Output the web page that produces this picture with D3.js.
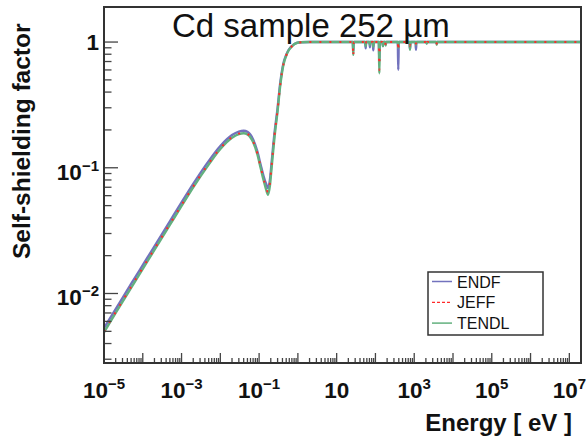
<!DOCTYPE html>
<html><head><meta charset="utf-8">
<script src="https://cdn.jsdelivr.net/npm/d3@7"></script>
<style>body{margin:0;background:#fff} svg{display:block} text{font-family:"Liberation Sans",Arial,Helvetica,sans-serif}</style>
</head><body><svg id="c" width="586" height="443"></svg>
<script>
// ---- data ----
const energy = [1e-5,2e-5,5e-5,1e-4,2e-4,5e-4,1e-3,2e-3,5e-3,0.01,0.02,0.03,0.04,0.05,0.07,0.09,0.11,0.13,0.15,0.17,0.19,0.21,0.25,0.3,0.35,0.42,0.5,0.57,0.7,0.93,1.2,2,5,15,
  26.0,26.8,27.6, 54.4,56,57.7, 70,72,74.2, 85.4,88,90.6, 122,126,130, 151,156,161, 179,184,190,
  377,388,400, 755,778,801, 1078,1110,1143, 2040,2100,2160, 3690,3800,3910, 1e4,1e5,1e6,1e7,2e7];
const endf = [0.0053,0.0075,0.0119,0.0168,0.0237,0.0375,0.0530,0.0745,0.113,0.149,0.182,0.194,0.197,0.193,0.168,0.135,0.105,0.086,0.075,0.069,0.080,0.110,0.190,0.300,0.470,0.670,0.790,0.860,0.930,0.985,0.996,1,1,1,
  1,0.85,1, 1,0.89,1, 1,0.91,1, 1,0.86,1, 1,0.70,1, 1,0.93,1, 1,0.96,1,
  1,0.60,1, 1,0.88,1, 1,0.87,1, 1,0.98,1, 1,0.97,1, 1,1,1,1,1];
const jeff = [0.0050,0.0071,0.0113,0.0160,0.0226,0.0357,0.0505,0.0710,0.108,0.143,0.175,0.187,0.190,0.186,0.162,0.130,0.101,0.082,0.070,0.064,0.075,0.104,0.182,0.290,0.455,0.658,0.782,0.855,0.927,0.984,0.996,1,1,1,
  1,0.77,1, 1,0.93,1, 1,0.96,1, 1,0.94,1, 1,0.60,1, 1,0.95,1, 1,0.94,1,
  1,0.85,1, 1,0.93,1, 1,0.97,1, 1,0.93,1, 1,0.97,1, 1,1,1,1,1];
const tendl = [0.0049,0.0070,0.0111,0.0157,0.0222,0.0351,0.0497,0.0700,0.106,0.141,0.173,0.185,0.188,0.184,0.160,0.128,0.099,0.080,0.068,0.061,0.072,0.100,0.176,0.284,0.448,0.652,0.778,0.852,0.925,0.983,0.995,1,1,1,
  1,0.79,1, 1,0.93,1, 1,0.95,1, 1,0.92,1, 1,0.565,1, 1,0.93,1, 1,0.94,1,
  1,0.90,1, 1,0.87,1, 1,0.95,1, 1,0.97,1, 1,0.95,1, 1,1,1,1,1];
const seriesNames = ["ENDF","JEFF","TENDL"];
const xLabelExps = [-5,-3,-1,1,3,5,7];
const yLabelExps = [-2,-1,0];
const titleText = "Cd sample 252 \u00b5m";
const xTitle = "Energy [ eV ]";
const yTitle = "Self-shielding factor";

// ---- layout ----
const P = {l:104, r:581, t:7, b:363};
const svg = d3.select("#c");
const x = d3.scaleLog().domain([1e-5, 2e7]).range([P.l, P.r]);
const y = d3.scaleLog().domain([0.0028, 1.9]).range([P.b, P.t]);

const styles = {
  ENDF:  {color:"#7272bd", width:2.4, dash:null},
  JEFF:  {color:"#ff2a2a", width:2, dash:"2,8"},
  TENDL: {color:"#62b07e", width:2.4, dash:null}
};
const dataBy = {ENDF:endf, JEFF:jeff, TENDL:tendl};

svg.append("defs").append("clipPath").attr("id","clip")
  .append("rect").attr("x",P.l).attr("y",P.t).attr("width",P.r-P.l).attr("height",P.b-P.t);

const line = d3.line().x(d=>x(d[0])).y(d=>y(d[1])).curve(d3.curveMonotoneX);
const gCurves = svg.append("g").attr("clip-path","url(#clip)");
["ENDF","TENDL","JEFF"].forEach(n=>{
  const s = styles[n];
  gCurves.append("path")
    .datum(energy.map((e,i)=>[e, dataBy[n][i]]))
    .attr("d", line).attr("fill","none")
    .attr("stroke", s.color).attr("stroke-width", s.width)
    .attr("stroke-dasharray", s.dash)
    .attr("stroke-linejoin","round");
});

// ---- ticks ----
const gt = svg.append("g").attr("stroke","#444").attr("stroke-width",1.3);
for (let k=-5;k<=7;k++){
  for (let m=1;m<=9;m++){
    const v = m*Math.pow(10,k);
    if (v<1e-5*0.999 || v>2e7) continue;
    const len = m===1 ? 10 : 5;
    gt.append("line").attr("x1",x(v)).attr("x2",x(v)).attr("y1",P.b).attr("y2",P.b-len);
  }
}
for (let k=-3;k<=0;k++){
  for (let m=1;m<=9;m++){
    const v = m*Math.pow(10,k);
    if (v<0.0028 || v>1.9) continue;
    const len = m===1 ? 14 : 7.5;
    gt.append("line").attr("x1",P.l).attr("x2",P.l+len).attr("y1",y(v)).attr("y2",y(v));
  }
}

// frame
svg.append("rect").attr("x",P.l).attr("y",P.t).attr("width",P.r-P.l).attr("height",P.b-P.t)
  .attr("fill","none").attr("stroke","#333").attr("stroke-width",2);

// ---- tick labels ----
function powLabel(t, e){
  if (e===0){ t.append("tspan").text("1"); return; }
  t.append("tspan").text("10");
  if (e!==1) t.append("tspan").attr("font-size",15).attr("dy",-9).text(e<0 ? "\u2212"+(-e) : String(e));
}
xLabelExps.forEach(e=>{
  const t = svg.append("text").attr("x", x(Math.pow(10,e))).attr("y", 398)
    .attr("text-anchor","middle").attr("font-size",22.5).attr("font-weight","bold").attr("fill","#111");
  powLabel(t,e);
});
yLabelExps.forEach(e=>{
  const t = svg.append("text").attr("x", 99).attr("y", y(Math.pow(10,e)) + (e===0?8:12))
    .attr("text-anchor","end").attr("font-size",22.5).attr("font-weight","bold").attr("fill","#111");
  powLabel(t,e);
});

// axis titles
svg.append("text").attr("x",572).attr("y",431).attr("text-anchor","end")
  .attr("font-size",24).attr("font-weight","bold").attr("fill","#111").text(xTitle);
svg.append("text").attr("transform","translate(30,259) rotate(-90)")
  .attr("font-size",24.5).attr("font-weight","bold").attr("fill","#111").text(yTitle);

// title
svg.append("text").attr("x",172).attr("y",37).attr("font-size",33).attr("fill","#111").text(titleText);

// legend
const L = {x:428, y:272, w:115, h:63};
svg.append("rect").attr("x",L.x).attr("y",L.y).attr("width",L.w).attr("height",L.h)
  .attr("fill","#fff").attr("stroke","#333").attr("stroke-width",1.5);
seriesNames.forEach((n,i)=>{
  const cy = 281.5 + i*20.8;
  const s = styles[n];
  svg.append("line").attr("x1",432).attr("x2",452).attr("y1",cy).attr("y2",cy)
    .attr("stroke",s.color).attr("stroke-width",n==="JEFF"?1.3:1.5).attr("stroke-dasharray", n==="JEFF"?"3,2":null);
  svg.append("text").attr("x",457).attr("y",cy+6).attr("font-size",16).attr("fill","#111").text(n);
});
</script></body></html>
